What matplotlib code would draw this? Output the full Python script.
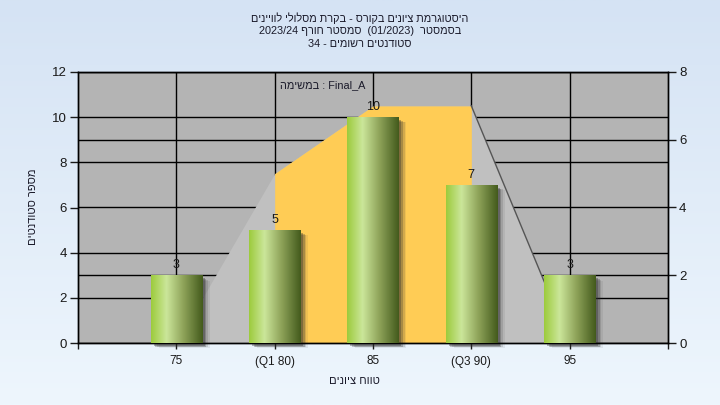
import re
import numpy as np
import matplotlib
matplotlib.use("Agg")
import matplotlib.pyplot as plt
import matplotlib.transforms as mtransforms
from matplotlib.colors import LinearSegmentedColormap

plt.rcParams['font.family'] = ['Liberation Sans', 'DejaVu Sans']

# ---------------- data ----------------
categories = [75, 80, 85, 90, 95]
tick_labels = ['75', '(Q1 80)', '85', '(Q3 90)', '95']
counts = [3, 5, 10, 7, 3]
curve_x = [75, 80, 85, 90, 95]
curve_y = [0, 5, 7, 7, 0]
q1, q3 = 80, 90

title_lines = [
    "היסטוגרמת ציונים בקורס - בקרת מסלולי לוויינים",
    "בסמסטר  (01/2023)  סמסטר חורף 2023/24",
    "סטודנטים רשומים - 34",
]
task_word = "במשימה"
task_name = "Final_A"
ylabel = "מספר סטודנטים"
xlabel = "טווח ציונים"


def rtl(s):
    """Visual (left-to-right) order for a right-to-left run; digit groups kept."""
    toks = re.findall(r'\d[\d/.]*\d|\d|.', s)
    mirror = {'(': ')', ')': '('}
    return ''.join(mirror.get(t, t) for t in reversed(toks))


W, H = 720, 405
fig = plt.figure(figsize=(W / 100, H / 100), dpi=100)

# background gradient
bg = fig.add_axes([0, 0, 1, 1], zorder=-10)
grad = np.linspace(0, 1, 256).reshape(-1, 1)
bgcmap = LinearSegmentedColormap.from_list('bg', ['#d5e3f4', '#eef6fd'])
bg.imshow(grad, aspect='auto', cmap=bgcmap, extent=[0, 1, 0, 1], origin='upper')
bg.set_axis_off()

L, R, B, T = 78 / W, 668 / W, (H - 343) / H, (H - 72) / H
ax = fig.add_axes([L, B, R - L, T - B])
ax2 = ax.twinx()
ax.set_zorder(2)
ax2.set_zorder(1)
ax.patch.set_visible(False)
ax2.patch.set_visible(True)
ax2.patch.set_facecolor('#b4b4b4')

ax.set_xlim(70, 100)
ax.set_ylim(0, 12)
ax2.set_ylim(0, 8)

# gridlines (on the lower axes so that the area covers them)
for xv in categories:
    ax2.axvline(xv, color='black', lw=1, zorder=0.6)
for yv in [2, 4, 8, 10]:
    ax2.plot([0, 1], [yv, yv], color='black', lw=1, zorder=0.6,
             transform=mtransforms.blended_transform_factory(ax2.transAxes, ax.transData))
ax2.set_yticks(range(0, 9, 2))
ax2.set_axisbelow(True)
ax2.grid(axis='y', color='black', lw=1)

# distribution area
cx = np.array(curve_x)
cy = np.array(curve_y)
ax2.fill_between(cx, cy, 0, color='#c0c0c0', lw=0, zorder=2)
ax2.fill_between(cx, cy, 0, where=(cx >= q1) & (cx <= q3), color='#ffcc55', lw=0, zorder=2.1)
ax2.plot(cx[3:], cy[3:], color='#555555', lw=1, zorder=2.2)

# bars
bar_w = 2.6
bars = ax.bar(categories, counts, width=bar_w, color='none', lw=0, zorder=3)
barcmap = LinearSegmentedColormap.from_list(
    'bar', [(0, '#9ccb3c'), (0.3, '#cbe69a'), (0.62, '#8fa45a'), (1, '#435a1c')])
hgrad = np.linspace(0, 1, 256).reshape(1, -1)
for rect, v in zip(bars, counts):
    x0 = rect.get_x()
    x1 = x0 + rect.get_width()
    # soft shadow
    for i, a in enumerate([0.35, 0.25, 0.15, 0.08]):
        off = mtransforms.ScaledTranslation((2 + i * 1.2) / 72, -(2 + i * 0.6) / 72, fig.dpi_scale_trans)
        sh = plt.Rectangle((x0, 0), rect.get_width(), v, transform=ax.transData + off,
                           facecolor='#303030', alpha=a, lw=0, zorder=2.5, clip_on=False)
        ax.add_patch(sh)
    im = ax.imshow(hgrad, extent=[x0, x1, 0, v], aspect='auto', cmap=barcmap, zorder=3.1)
    im.set_clip_path(rect)
    ax.annotate(str(v), (rect.get_x() + rect.get_width() / 2, v), xytext=(0, 3),
                textcoords='offset points', ha='center', va='bottom', fontsize=9, color='#1a1a1a',
                zorder=4)

ax.set_xlim(70, 100)
ax.set_ylim(0, 12)

# ticks
ax.set_xticks([70] + categories + [100])
ax.set_xticklabels([''] + tick_labels + [''], fontsize=8.5, color='#1a1a1a')
ax.set_yticks(range(0, 13, 2))
ax.tick_params(axis='y', length=6, width=1, pad=2, labelsize=9.5, colors='#1a1a1a')
ax.tick_params(axis='x', length=4, width=1, pad=5, colors='#1a1a1a')
ax2.tick_params(axis='y', length=6, width=1, pad=2, labelsize=9.5, colors='#1a1a1a')
for a in (ax, ax2):
    for s in a.spines.values():
        s.set_color('black')
        s.set_linewidth(1)

# texts
for i, line in enumerate(title_lines):
    fig.text(0.5, 1 - (18 + 13 * i) / H, rtl(line), ha='center', va='center', fontsize=7.8,
             color='#1a1a2a')
ax.text((323 - 78) / (668 - 78), (343 - 85) / (343 - 72), rtl(task_word) + ' : ' + task_name,
        transform=ax.transAxes, ha='center', va='center', fontsize=7.8, color='#1a1a2a', zorder=5)
fig.text(33 / W, 1 - 207 / H, rtl(ylabel), rotation=90, ha='center', va='center', fontsize=8,
         color='#1a1a2a')
fig.text(354 / W, 1 - 381 / H, rtl(xlabel), ha='center', va='center', fontsize=8, color='#1a1a2a')

fig.savefig('out.png', dpi=100)
